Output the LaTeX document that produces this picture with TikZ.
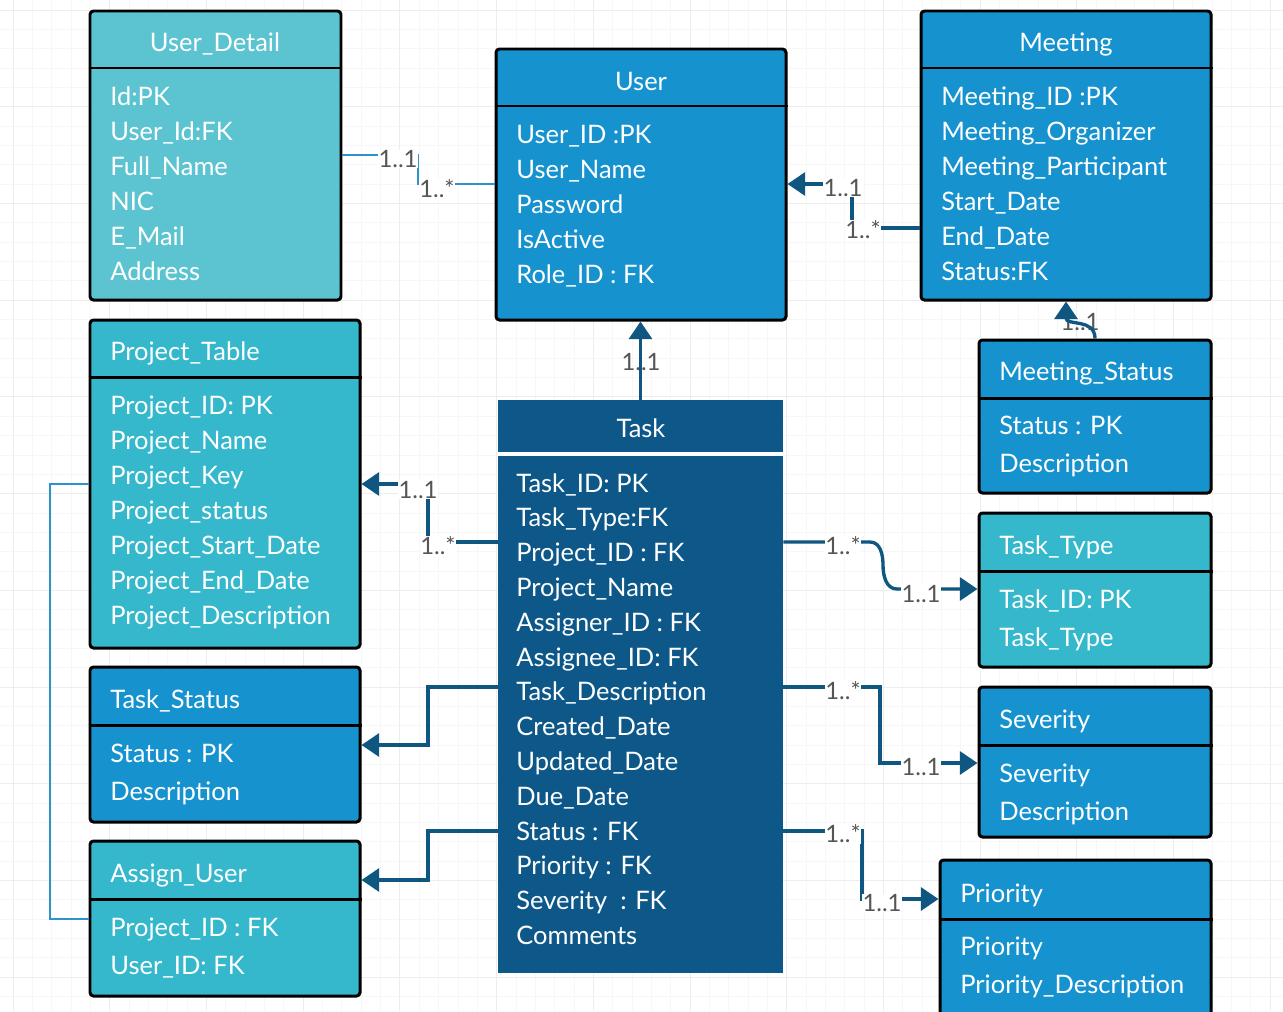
\documentclass[tikz,border=0pt]{standalone}
\usepackage{fontspec}
\setmainfont{Lato}
\usetikzlibrary{arrows.meta,fit}
\definecolor{cpale}{HTML}{5CC4D1}
\definecolor{cteal}{HTML}{35B8CC}
\definecolor{cblue}{HTML}{1692CF}
\definecolor{ctask}{HTML}{0D5888}
\definecolor{clink}{HTML}{0F5680}
\definecolor{clight}{HTML}{2E92CB}
\definecolor{clabel}{HTML}{555555}
\tikzset{%
  entity/.style   = {draw=black, line width=1.7pt, rounded corners=2pt, inner sep=0pt},%
  sepline/.style  = {black, line width=1.7pt},%
  etitle/.style   = {text=white, inner sep=0pt, font=\fontsize{14.5}{17}\selectfont},%
  efield/.style   = {etitle, anchor=base west},%
  mult/.style     = {text=clabel, inner sep=0.4pt, font=\fontsize{13.6}{16}\selectfont},%
  link/.style     = {clink, line width=1.9pt},%
  weaklink/.style = {clight, line width=1.6pt},%
  fk/.style       = {-{Triangle[length=10pt,width=13pt]}},%
  gridminor/.style= {gray!6, line width=0.4pt},%
  gridmajor/.style= {gray!14, line width=0.4pt}%
}
\begin{document}
\begin{tikzpicture}[x=0.02cm, y=-0.02cm]
	\useasboundingbox (0,0) rectangle (1283,1011);
	\fill[white] (0,0) rectangle (1283,1011);
	% background grid
	\foreach \k in {0,...,66} \draw[gridminor] ({-6.3+19.34*\k},0) -- ({-6.3+19.34*\k},1011);
	\foreach \k in {0,...,53} \draw[gridminor] (0,{-9.3+19.34*\k}) -- (1283,{-9.3+19.34*\k});
	\foreach \k in {0,...,13} \draw[gridmajor] ({13+96.7*\k},0) -- ({13+96.7*\k},1011);
	\foreach \k in {0,...,10} \draw[gridmajor] (0,{10+96.7*\k}) -- (1283,{10+96.7*\k});

	% User_Detail
	\node[entity, fill=cpale, fit={(90,11) (341,300)}] (udetail) {};
	\draw[sepline] (udetail.west |- 0,68) -- (udetail.east |- 0,68);
	\node[etitle, anchor=base] (udetail-t) at (215,51) {User\_Detail};
	\foreach \f [count=\i] in {Id:PK, User\_Id:FK, Full\_Name, NIC, E\_Mail, Address}
		\node[efield] (udetail-\i) at (110,{105+35*(\i-1)}) {\f};

	% User
	\node[entity, fill=cblue, fit={(496,49) (786,320)}] (user) {};
	\draw[sepline] (user.west |- 0,106) -- (user.east |- 0,106);
	\node[etitle, anchor=base] (user-t) at (641,90) {User};
	\foreach \f [count=\i] in {User\_ID :PK, User\_Name, Password, IsActive, Role\_ID : FK}
		\node[efield] (user-\i) at (516,{143+35*(\i-1)}) {\f};

	% Meeting
	\node[entity, fill=cblue, fit={(921,11) (1211,300)}] (meeting) {};
	\draw[sepline] (meeting.west |- 0,68) -- (meeting.east |- 0,68);
	\node[etitle, anchor=base] (meeting-t) at (1066,51) {Meeting};
	\foreach \f [count=\i] in {Meeting\_ID :PK, Meeting\_Organizer, Meeting\_Participant, Start\_Date, End\_Date, Status:FK}
		\node[efield] (meeting-\i) at (941,{105+35*(\i-1)}) {\f};

	% Meeting_Status
	\node[entity, fill=cblue, fit={(979,340) (1211,493)}] (mstatus) {};
	\draw[sepline] (mstatus.west |- 0,398) -- (mstatus.east |- 0,398);
	\node[etitle, anchor=base west] (mstatus-t) at (999,380) {Meeting\_Status};
	\foreach \f [count=\i] in {Status : PK, Description}
		\node[efield] (mstatus-\i) at (999,{434+38*(\i-1)}) {\f};

	% Project_Table
	\node[entity, fill=cteal, fit={(90,320) (360,648)}] (project) {};
	\draw[sepline] (project.west |- 0,377) -- (project.east |- 0,377);
	\node[etitle, anchor=base west] (project-t) at (110,360) {Project\_Table};
	\foreach \f [count=\i] in {Project\_ID: PK, Project\_Name, Project\_Key, Project\_status, Project\_Start\_Date, Project\_End\_Date, Project\_Description}
		\node[efield] (project-\i) at (110,{414+35*(\i-1)}) {\f};

	% Task
	\node[fill=ctask, inner sep=0pt, fit={(498,400) (783,973)}] (task) {};
	\draw[white, line width=2.2pt] (task.west |- 0,454) -- (task.east |- 0,454);
	\node[etitle, anchor=base] (task-t) at (641,437) {Task};
	\foreach \f [count=\i] in {Task\_ID: PK, Task\_Type:FK, Project\_ID : FK, Project\_Name, Assigner\_ID : FK, Assignee\_ID: FK, Task\_Description, Created\_Date, Updated\_Date, Due\_Date, Status : FK, Priority : FK, Severity\ \ : FK, Comments}
		\node[efield] (task-\i) at (516,{492+34.8*(\i-1)}) {\f};

	% Task_Type
	\node[entity, fill=cteal, fit={(979,513) (1211,667)}] (ttype) {};
	\draw[sepline] (ttype.west |- 0,571) -- (ttype.east |- 0,571);
	\node[etitle, anchor=base west] (ttype-t) at (999,554) {Task\_Type};
	\foreach \f [count=\i] in {Task\_ID: PK, Task\_Type}
		\node[efield] (ttype-\i) at (999,{608+38*(\i-1)}) {\f};

	% Severity
	\node[entity, fill=cblue, fit={(979,687) (1211,837)}] (severity) {};
	\draw[sepline] (severity.west |- 0,745) -- (severity.east |- 0,745);
	\node[etitle, anchor=base west] (severity-t) at (999,728) {Severity};
	\foreach \f [count=\i] in {Severity, Description}
		\node[efield] (severity-\i) at (999,{782+38*(\i-1)}) {\f};

	% Priority
	\node[entity, fill=cblue, fit={(940,860) (1211,1040)}] (priority) {};
	\draw[sepline] (priority.west |- 0,919) -- (priority.east |- 0,919);
	\node[etitle, anchor=base west] (priority-t) at (960,902) {Priority};
	\foreach \f [count=\i] in {Priority, Priority\_Description}
		\node[efield] (priority-\i) at (960,{955+38*(\i-1)}) {\f};

	% Task_Status
	\node[entity, fill=cblue, fit={(90,667) (360,822)}] (tstatus) {};
	\draw[sepline] (tstatus.west |- 0,725) -- (tstatus.east |- 0,725);
	\node[etitle, anchor=base west] (tstatus-t) at (110,708) {Task\_Status};
	\foreach \f [count=\i] in {Status : PK, Description}
		\node[efield] (tstatus-\i) at (110,{762+38*(\i-1)}) {\f};

	% Assign_User
	\node[entity, fill=cteal, fit={(90,841) (360,996)}] (assign) {};
	\draw[sepline] (assign.west |- 0,899) -- (assign.east |- 0,899);
	\node[etitle, anchor=base west] (assign-t) at (110,882) {Assign\_User};
	\foreach \f [count=\i] in {Project\_ID : FK, User\_ID: FK}
		\node[efield] (assign-\i) at (110,{936+38*(\i-1)}) {\f};

	% labels that the line runs through
	\node[mult] (tu) at (641,362) {1..1};
	\node[mult] (ms) at (1080,322) {1..1};

	% connectors
	\draw[weaklink] (udetail.east |- 0,155) -| (418,184) -- (user.west |- 0,184);
	\draw[link, fk] (meeting.west |- 0,228) -| (852,184) -- (user.east |- 0,184);
	\draw[link, fk] (mstatus.north -| 1095,0) .. controls (1095,318) and (1066,326) .. (meeting.south -| 1066,0);
	\draw[link, fk] (task.north) -- (task.north |- user.south);
	\draw[link, fk] (task.west |- 0,542) -| (428,484) -- (project.east |- 0,484);
	\draw[link, fk] (task.east |- 0,542) -- (870,542) to[out=0,in=90] (883,565) to[out=-90,in=180] (897,589) -- (ttype.west |- 0,589);
	\draw[link, fk] (task.east |- 0,687) -| (880,763) -- (severity.west |- 0,763);
	\draw[link, fk] (task.east |- 0,831) -| (862,899) -- (priority.west |- 0,899);
	\draw[link, fk] (task.west |- 0,687) -| (428,745) -- (tstatus.east |- 0,745);
	\draw[link, fk] (task.west |- 0,831) -| (428,880) -- (assign.east |- 0,880);
	\draw[weaklink, line width=1.1pt] (project.west |- 0,484) -| (50,919) -- (assign.west |- 0,919);

	% multiplicities
	\node[mult, fill=white] (udu1) at (398,159) {1..1};
	\node[mult, fill=white] (udu2) at (437,189) {1..*};
	\node[mult, fill=white] (mu1) at (843,188) {1..1};
	\node[mult, fill=white] (mu2) at (863,230) {1..*};
	\node[mult, fill=white] (tp1) at (418,490) {1..1};
	\node[mult, fill=white] (tp2) at (438,546) {1..*};
	\node[mult, fill=white] (tt1) at (843,546) {1..*};
	\node[mult, fill=white] (tt2) at (921,594) {1..1};
	\node[mult, fill=white] (ts1) at (843,691) {1..*};
	\node[mult, fill=white] (ts2) at (921,767) {1..1};
	\node[mult, fill=white] (tpr1) at (843,834) {1..*};
	\node[mult, fill=white] (tpr2) at (882,903) {1..1};
\end{tikzpicture}
\end{document}
